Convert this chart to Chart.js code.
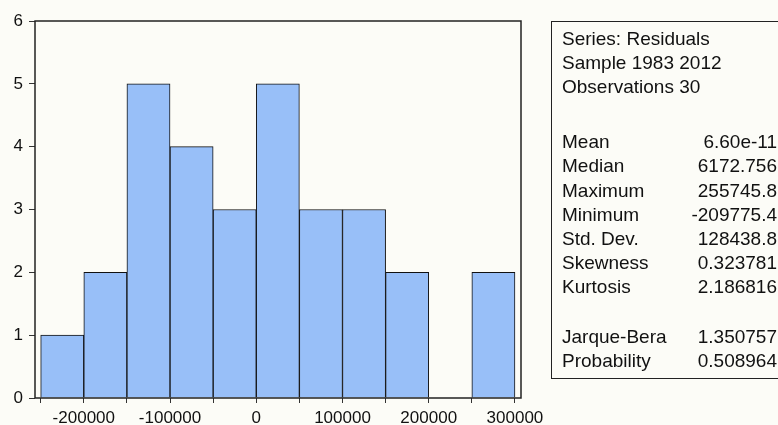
<!DOCTYPE html>
<html>
<head>
<meta charset="utf-8">
<script src="https://cdn.jsdelivr.net/npm/chart.js@4.4.1/dist/chart.umd.min.js"></script>
<style>
  html, body { margin: 0; padding: 0; background: #fcfcf7; }
  #wrap { width: 778px; height: 425px; }
</style>
</head>
<body>
<div id="wrap"><canvas id="hist" width="778" height="425"></canvas></div>
<script>
// histogram bins (centre of each 50000-wide bin) and counts
const binCenters = [-225000, -175000, -125000, -75000, -25000, 25000, 75000, 125000, 175000, 225000, 275000];
const counts = [1, 2, 5, 4, 3, 5, 3, 3, 2, 0, 2];
const xTickValues = [-250000, -200000, -150000, -100000, -50000, 0, 50000, 100000, 150000, 200000, 250000, 300000];

// stats box
const headerLines = ['Series: Residuals', 'Sample 1983 2012', 'Observations 30'];
const statNames = ['Mean', 'Median', 'Maximum', 'Minimum', 'Std. Dev.', 'Skewness', 'Kurtosis'];
const statValues = ['6.60e-11', '6172.756', '255745.8', '-209775.4', '128438.8', '0.323781', '2.186816'];
const testNames = ['Jarque-Bera', 'Probability'];
const testValues = ['1.350757', '0.508964'];

const FONT = '"Liberation Sans", Arial, sans-serif';

const framePlugin = {
    id: 'frame',
    afterDatasetsDraw: (chart) => {
        const { ctx, chartArea: a } = chart;
        ctx.save();
        ctx.strokeStyle = '#222';
        ctx.lineWidth = 1.5;
        ctx.strokeRect(a.left, a.top, a.right - a.left, a.bottom - a.top);
        ctx.restore();
    }
};

const statsPlugin = {
    id: 'stats',
    afterDraw: (chart) => {
        const ctx = chart.ctx;
        ctx.save();
        ctx.strokeStyle = '#222';
        ctx.lineWidth = 1;
        ctx.strokeRect(551.5, 21.5, 260, 357);
        ctx.fillStyle = '#111';
        ctx.font = '19px ' + FONT;
        ctx.textBaseline = 'middle';
        const xName = 562, xVal = 777;
        headerLines.forEach((t, i) => {
            ctx.textAlign = 'left';
            ctx.fillText(t, xName, 40 + i * 24);
        });
        statNames.forEach((t, i) => {
            const y = 143 + i * 24.2;
            ctx.textAlign = 'left';
            ctx.fillText(t, xName, y);
            ctx.textAlign = 'right';
            ctx.fillText(statValues[i], xVal, y);
        });
        testNames.forEach((t, i) => {
            const y = 338 + i * 24;
            ctx.textAlign = 'left';
            ctx.fillText(t, xName, y);
            ctx.textAlign = 'right';
            ctx.fillText(testValues[i], xVal, y);
        });
        ctx.restore();
    }
};

new Chart(document.getElementById('hist').getContext('2d'), {
    type: 'bar',
    data: {
        datasets: [{
            data: binCenters.map((c, i) => ({ x: c, y: counts[i] })),
            backgroundColor: '#98bff8',
            borderColor: '#111',
            borderWidth: 1,
            barPercentage: 1.0,
            categoryPercentage: 1.0
        }]
    },
    options: {
        responsive: false,
        animation: false,
        layout: { padding: { top: 21, right: 257, left: 0, bottom: 0 } },
        plugins: { legend: { display: false }, tooltip: { enabled: false } },
        scales: {
            x: {
                type: 'linear',
                offset: false,
                min: -256600,
                max: 307000,
                afterBuildTicks: (scale) => { scale.ticks = xTickValues.map(v => ({ value: v })); },
                afterFit: (scale) => { scale.height = 27; },
                grid: { offset: false, drawOnChartArea: false, drawTicks: true, tickLength: 5, color: '#333' },
                border: { display: false },
                ticks: {
                    autoSkip: false,
                    maxRotation: 0,
                    padding: 5,
                    color: '#111',
                    font: { family: FONT, size: 17 },
                    callback: (v) => (v % 100000 === 0 ? String(v) : '')
                }
            },
            y: {
                min: 0,
                max: 6,
                afterFit: (scale) => { scale.width = 35; },
                grid: { drawOnChartArea: false, drawTicks: true, tickLength: 6, color: '#333' },
                border: { display: false },
                ticks: {
                    stepSize: 1,
                    padding: 6,
                    color: '#111',
                    font: { family: FONT, size: 17 }
                }
            }
        }
    },
    plugins: [framePlugin, statsPlugin]
});
</script>
</body>
</html>
